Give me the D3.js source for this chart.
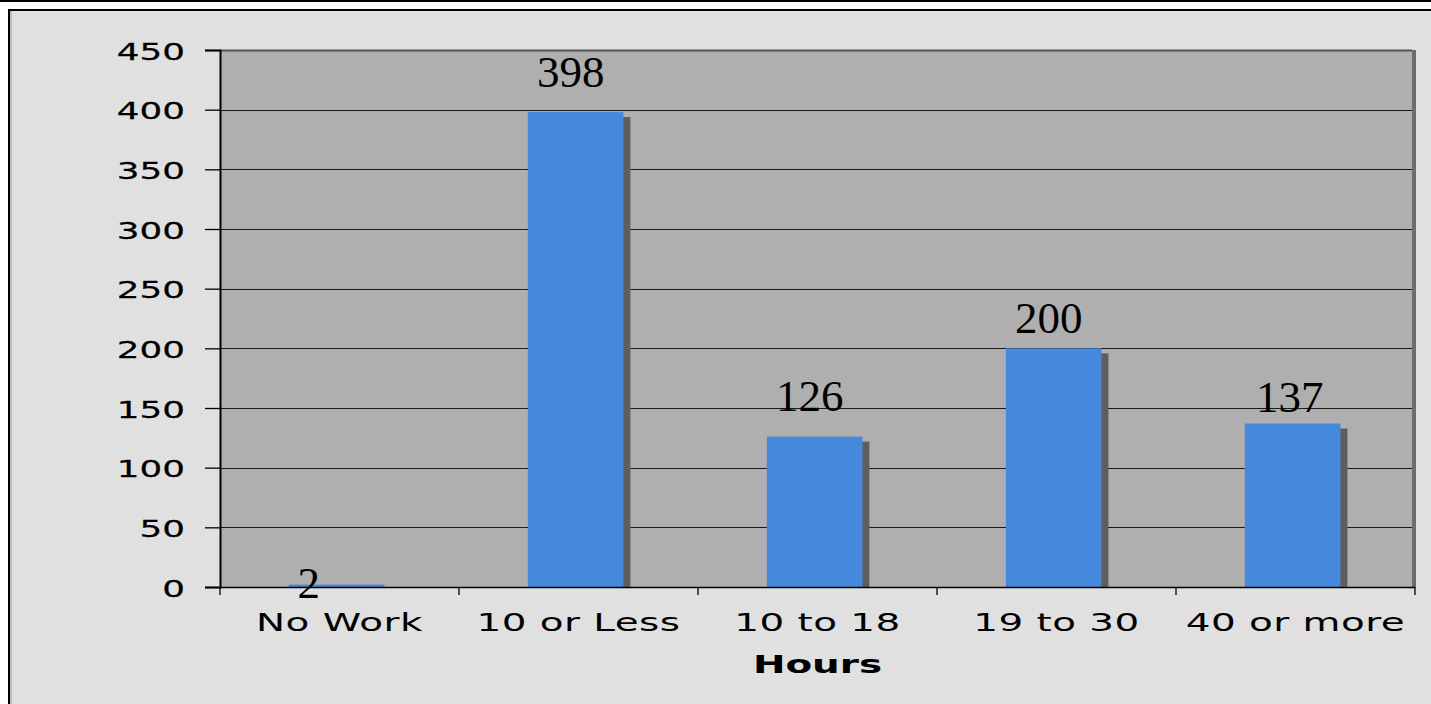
<!DOCTYPE html>
<html>
<head>
<meta charset="utf-8">
<script src="https://cdn.jsdelivr.net/npm/d3@7"></script>
<style>
  html, body { margin: 0; padding: 0; background: #ffffff; overflow: hidden; }
  svg { display: block; }
</style>
</head>
<body>
<script>
// Weekly working hours of respondents
const categories = ["No Work", "10 or Less", "10 to 18", "19 to 30", "40 or more"];
const counts = [2, 398, 126, 200, 137];
const yTicks = [0, 50, 100, 150, 200, 250, 300, 350, 400, 450];
const xTitle = "Hours";

// Hand-placed value labels: [dx, dy] from the bar's top centre
const labelNudge = [[-28, 13], [-5, -25], [-5, -26], [-5, -15], [-3, -12]];

const W = 1431, H = 704;
const plot = { left: 220, right: 1415, top: 50, bottom: 587 };
const stretch = 1.62; // wide sans lettering

const svg = d3.select("body").append("svg")
  .attr("width", W).attr("height", H);

// page rule and framed panel (panel runs off the right and bottom edges)
svg.append("rect").attr("x", 0).attr("y", 0).attr("width", W).attr("height", H).attr("fill", "#ffffff");
svg.append("rect").attr("x", 0).attr("y", 0).attr("width", W).attr("height", 2).attr("fill", "#000");
svg.append("rect").attr("x", 9).attr("y", 10).attr("width", W + 40).attr("height", H + 40)
  .attr("fill", "#e0e0e0").attr("stroke", "#000").attr("stroke-width", 2);
svg.append("line").attr("x1", 11).attr("x2", 11).attr("y1", 11).attr("y2", H)
  .attr("stroke", "#9a9a9a").attr("stroke-width", 1);

const x = d3.scaleBand().domain(categories)
  .range([plot.left, plot.right]).paddingInner(0.6).paddingOuter(0.3).align(0.48);
const y = d3.scaleLinear().domain([0, 450]).range([plot.bottom, plot.top]);

// plot area with its right-hand shade
svg.append("rect").attr("x", plot.left).attr("y", plot.top)
  .attr("width", plot.right - 3 - plot.left).attr("height", plot.bottom - plot.top)
  .attr("fill", "#afafaf");
svg.append("rect").attr("x", plot.right - 3).attr("y", plot.top)
  .attr("width", 4).attr("height", plot.bottom - plot.top)
  .attr("fill", "#6c6c6c");

// horizontal gridlines
svg.append("g").selectAll("line").data(yTicks.filter(v => v > 0)).join("line")
  .attr("x1", plot.left).attr("x2", plot.right - 3)
  .attr("y1", d => Math.round(y(d)) + 0.5).attr("y2", d => Math.round(y(d)) + 0.5)
  .attr("stroke", d => d === 450 ? "#555" : "#1a1a1a").attr("stroke-width", d => d === 450 ? 2 : 1.2);

// bars with drop shadows
const bars = svg.append("g");
bars.selectAll("rect.shadow").data(counts).join("rect")
  .attr("class", "shadow")
  .attr("x", (d, i) => x(categories[i]) + 7)
  .attr("y", d => y(d) + 5)
  .attr("width", x.bandwidth())
  .attr("height", d => Math.max(0, plot.bottom - y(d) - 5))
  .attr("fill", "#5e5e5e");
bars.selectAll("rect.bar").data(counts).join("rect")
  .attr("class", "bar")
  .attr("x", (d, i) => x(categories[i]))
  .attr("y", d => y(d))
  .attr("width", x.bandwidth())
  .attr("height", d => plot.bottom - y(d))
  .attr("fill", "#4589dd");

// y axis
const yAxis = svg.append("g")
  .attr("transform", `translate(${plot.left},0)`)
  .call(d3.axisLeft(y).tickValues(yTicks).tickSize(15).tickFormat(d3.format("d")));
yAxis.select(".domain").attr("stroke", "#000").attr("stroke-width", 2);
yAxis.selectAll(".tick line").attr("stroke", "#000").attr("stroke-width", 1.3);
yAxis.selectAll(".tick text")
  .attr("font-family", "DejaVu Sans, Verdana, sans-serif")
  .attr("font-size", 23.5).attr("fill", "#000")
  .attr("stroke", "#000").attr("stroke-width", 0.25)
  .attr("x", null).attr("dy", null)
  .attr("dominant-baseline", "central")
  .attr("transform", `translate(-35,1) scale(1.52,1)`);

// x axis line with ticks on the category boundaries
const step = x.step();
const bounds = d3.range(categories.length + 1).map(i => plot.left + i * step);
svg.append("line").attr("x1", plot.left).attr("x2", plot.right)
  .attr("y1", plot.bottom + 0.5).attr("y2", plot.bottom + 0.5)
  .attr("stroke", "#000").attr("stroke-width", 1.6);
svg.append("g").selectAll("line").data(bounds).join("line")
  .attr("x1", d => d).attr("x2", d => d)
  .attr("y1", plot.bottom).attr("y2", plot.bottom + 8)
  .attr("stroke", "#000").attr("stroke-width", 1.3);

// category labels
svg.append("g").selectAll("text").data(categories).join("text")
  .attr("transform", (d, i) => `translate(${plot.left + (i + 0.5) * step},631) scale(${stretch},1)`)
  .attr("text-anchor", "middle")
  .attr("font-family", "DejaVu Sans, Verdana, sans-serif")
  .attr("font-size", 24).attr("fill", "#000")
  .attr("letter-spacing", 0.3)
  .text(d => d);

// axis title
svg.append("text")
  .attr("transform", `translate(${(plot.left + plot.right) / 2},673) scale(${stretch},1)`)
  .attr("text-anchor", "middle")
  .attr("font-family", "DejaVu Sans, Verdana, sans-serif")
  .attr("font-weight", "bold")
  .attr("font-size", 24).attr("fill", "#000")
  .text(xTitle);

// value labels
svg.append("g").selectAll("text").data(counts).join("text")
  .attr("x", (d, i) => x(categories[i]) + x.bandwidth() / 2 + labelNudge[i][0])
  .attr("y", (d, i) => y(d) + labelNudge[i][1])
  .attr("text-anchor", "middle")
  .attr("font-family", "Liberation Serif, Times New Roman, serif")
  .attr("font-size", 45).attr("fill", "#000")
  .text(d => d);
</script>
</body>
</html>
